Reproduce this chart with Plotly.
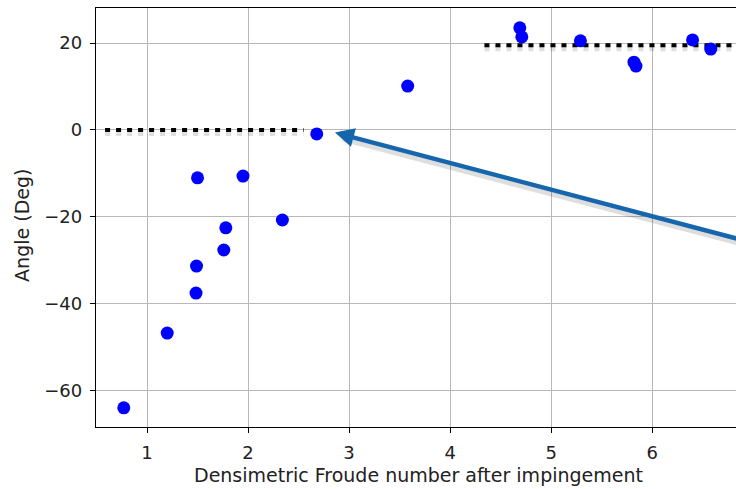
import plotly.graph_objects as go

# Measured points: densimetric Froude number vs. jet angle
froude = [0.77, 1.20, 1.50, 1.49, 1.485, 1.78, 1.76, 1.95, 2.34, 2.68,
          3.58, 4.69, 4.71, 5.29, 5.82, 5.84, 6.40, 6.58]
angle = [-63.9, -46.7, -11.0, -31.3, -37.5, -22.5, -27.6, -10.6, -20.7, -0.9,
         10.1, 23.5, 21.4, 20.5, 15.6, 14.7, 20.7, 18.6]

# Reference levels (dotted guides)
low_level_x = [0.585, 2.55]
low_level_y = [0.0, 0.0]
high_level_x = [4.34, 7.2]
high_level_y = [19.5, 19.5]

# Pointer arrow (tip and tail)
arrow_tip = (2.86, -0.6)
arrow_tail = (7.2, -27.2)

x_ticks = [1, 2, 3, 4, 5, 6]
y_ticks = [-60, -40, -20, 0, 20]

FONT = "DejaVu Sans"
SHADOW = "rgba(0,0,0,0.13)"

fig = go.Figure()

# soft drop shadows under the guides and arrow
for xs, ys in [(low_level_x, low_level_y), (high_level_x, high_level_y)]:
    fig.add_trace(go.Scatter(
        x=xs, y=[v - 0.7 for v in ys], mode="lines",
        line=dict(color=SHADOW, width=6, dash="5px,6px"),
        hoverinfo="skip", showlegend=False))
fig.add_trace(go.Scatter(
    x=[arrow_tip[0] + 0.08, arrow_tail[0]], y=[arrow_tip[1] - 1.4, arrow_tail[1] - 0.8],
    mode="lines", line=dict(color=SHADOW, width=6),
    hoverinfo="skip", showlegend=False))

for xs, ys in [(low_level_x, low_level_y), (high_level_x, high_level_y)]:
    fig.add_trace(go.Scatter(
        x=xs, y=ys, mode="lines",
        line=dict(color="black", width=4, dash="5px,6px"),
        hoverinfo="skip", showlegend=False))

fig.add_trace(go.Scatter(
    x=froude, y=angle, mode="markers",
    marker=dict(color="#0000ff", size=13, line=dict(width=0)),
    showlegend=False))

fig.add_annotation(
    x=arrow_tip[0], y=arrow_tip[1], xref="x", yref="y",
    ax=arrow_tail[0], ay=arrow_tail[1], axref="x", ayref="y",
    showarrow=True, arrowhead=2, arrowsize=0.85, arrowwidth=4.5,
    arrowcolor="#1666ae", text="")

fig.add_annotation(
    text="Densimetric Froude number after impingement",
    xref="paper", yref="paper", x=(418 - 96) / 640, y=0, yshift=-48,
    showarrow=False, font=dict(family=FONT, size=19, color="#222"),
    xanchor="center", yanchor="middle")
fig.add_annotation(
    text="Angle (Deg)", textangle=-90,
    xref="paper", yref="paper", x=0, xshift=-74, y=0.48,
    showarrow=False, font=dict(family=FONT, size=19, color="#222"),
    xanchor="center", yanchor="middle")

fig.update_layout(
    width=736, height=489,
    margin=dict(l=96, r=0, t=8, b=62),
    plot_bgcolor="white", paper_bgcolor="white",
    font=dict(family=FONT, size=18, color="#222"),
    xaxis=dict(
        range=[0.495, 6.83], tickvals=x_ticks,
        showgrid=True, gridcolor="#b8b8b8", gridwidth=1,
        showline=True, linecolor="black", linewidth=1.3, mirror=True,
        ticks="outside", ticklen=5, tickcolor="black", tickwidth=1.2,
        ticklabelstandoff=4, zeroline=False),
    yaxis=dict(
        range=[-68.3, 28.05], tickvals=y_ticks,
        showgrid=True, gridcolor="#b8b8b8", gridwidth=1,
        showline=True, linecolor="black", linewidth=1.3, mirror=False,
        ticks="outside", ticklen=5, tickcolor="black", tickwidth=1.2,
        ticklabelstandoff=4, zeroline=False),
)

fig.write_html("out.html")
